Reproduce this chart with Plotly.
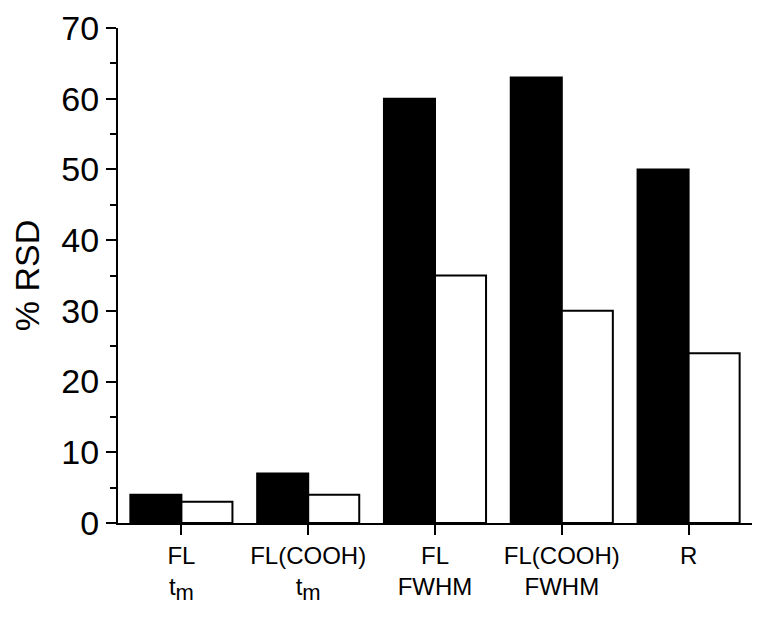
import plotly.graph_objects as go

# categories (x tick labels) and the two series
SUB = "<sub><span style='font-size:22px'>m</span></sub>"
categories = ["FL<br>t" + SUB, "FL(COOH)<br>t" + SUB,
              "FL<br>FWHM", "FL(COOH)<br>FWHM", "R<br> "]
filled_vals = [4, 7, 60, 63, 50]
open_vals = [3, 4, 35, 30, 24]

FONT = "Liberation Sans, Arial, sans-serif"

fig = go.Figure()
fig.add_trace(go.Bar(
    x=categories, y=filled_vals,
    marker=dict(color="black", line=dict(color="black", width=2)),
    showlegend=False,
))
fig.add_trace(go.Bar(
    x=categories, y=open_vals,
    marker=dict(color="white", line=dict(color="black", width=2)),
    showlegend=False,
))

# page body has an 8px margin, so the figure is a bit smaller than the window
fig.update_layout(
    width=746, height=605,
    barmode="group",
    bargap=0.195, bargroupgap=0,
    plot_bgcolor="white", paper_bgcolor="white",
    margin=dict(l=110, r=2, t=20, b=90),
    font=dict(family=FONT, color="black"),
)
fig.update_xaxes(
    range=[-0.5, 4.5],
    showline=True, linecolor="black", linewidth=2,
    ticks="outside", ticklen=10, tickwidth=2, tickcolor="black",
    tickfont=dict(size=24),
    showgrid=False, zeroline=False,
)
fig.update_yaxes(
    range=[0, 70], dtick=10,
    showline=True, linecolor="black", linewidth=2,
    ticks="outside", ticklen=10, tickwidth=2, tickcolor="black",
    minor=dict(dtick=5, ticks="outside", ticklen=6, tickwidth=2, tickcolor="black"),
    tickfont=dict(size=34),
    title=dict(text="% RSD", font=dict(size=34), standoff=12),
    showgrid=False, zeroline=False,
)

fig.write_html("out.html")
